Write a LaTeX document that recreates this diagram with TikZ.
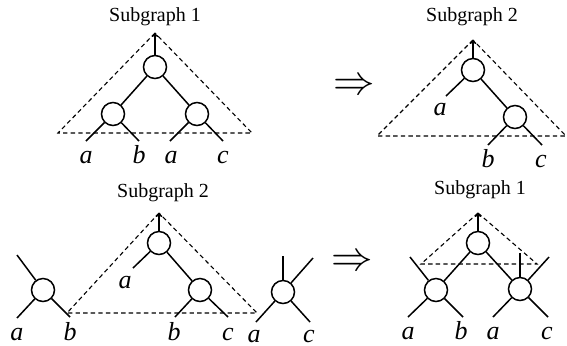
\documentclass[tikz,border=0pt]{standalone}
\usepackage{fontspec}
\setmainfont{Liberation Serif}
\usetikzlibrary{arrows.meta}

\begin{document}
\begin{tikzpicture}[x=0.5pt,y=-0.5pt,
  vert/.style={circle,draw,line width=0.75pt,minimum size=11.5pt,inner sep=0pt},
  edge/.style={line width=0.75pt},
  sub/.style={line width=0.55pt,dash pattern=on 2.2pt off 1.6pt},
  rootarr/.style={line width=0.75pt,-{To[length=2pt,width=3.5pt]}},
  ttl/.style={font=\fontsize{10}{12}\selectfont},
  lab/.style={font=\fontsize{13}{15}\selectfont\itshape,anchor=base,inner sep=0pt},
  impl/.style={font=\fontsize{21}{23}\selectfont}]
  \useasboundingbox (0,0) rectangle (567,345);

  % top left: subgraph 1
  \node[ttl] (t1) at (155,17) {Subgraph 1};
  \coordinate (p1) at (155,33);
  \coordinate (q1l) at (58,133);
  \coordinate (q1r) at (252,133);
  \node[vert] (r1) at (155,67) {};
  \node[vert] (r1l) at (113,114) {};
  \node[vert] (r1r) at (197,114) {};
  \coordinate (l1) at (86,141); \coordinate (l2) at (139,141);
  \coordinate (l3) at (170,141); \coordinate (l4) at (223,141);
  \draw[sub] (p1) -- (q1l) -- (q1r) -- cycle;
  \draw[rootarr] (r1) -- (p1);
  \draw[edge] (r1) -- (r1l); \draw[edge] (r1) -- (r1r);
  \draw[edge] (r1l) -- (l1); \draw[edge] (r1l) -- (l2);
  \draw[edge] (r1r) -- (l3); \draw[edge] (r1r) -- (l4);
  \node[lab] (a1) at (86,163) {a};
  \node[lab] (b1) at (139,163) {b};
  \node[lab] (a2) at (171,163) {a};
  \node[lab] (c1) at (223,163) {c};

  \node[impl] (imp1) at (354,87) {$\Rightarrow$};

  % top right: subgraph 2
  \node[ttl] (t2) at (472,17) {Subgraph 2};
  \coordinate (p2) at (473,40);
  \coordinate (q2l) at (377,136);
  \coordinate (q2r) at (566,136);
  \node[vert] (r2) at (473,70) {};
  \node[vert] (r2r) at (515,117) {};
  \coordinate (m1) at (446,96);
  \coordinate (l5) at (488,145); \coordinate (l6) at (542,145);
  \draw[sub] (p2) -- (q2l) -- (q2r) -- cycle;
  \draw[rootarr] (r2) -- (p2);
  \draw[edge] (r2) -- (m1); \draw[edge] (r2) -- (r2r);
  \draw[edge] (r2r) -- (l5); \draw[edge] (r2r) -- (l6);
  \node[lab] (a3) at (440,115) {a};
  \node[lab] (b2) at (488,167) {b};
  \node[lab] (c2) at (541,167) {c};

  % bottom left: subgraph 2 between two other nodes
  \node[ttl] (t3) at (163,193) {Subgraph 2};
  \coordinate (p3) at (159,213);
  \coordinate (q3l) at (67,313);
  \coordinate (q3r) at (257,313);
  \node[vert] (r3) at (159,243) {};
  \node[vert] (r3r) at (200,290) {};
  \coordinate (m2) at (133,268);
  \coordinate (l7) at (175,317); \coordinate (l8) at (228,317);
  \draw[sub] (p3) -- (q3l) -- (q3r) -- cycle;
  \draw[rootarr] (r3) -- (p3);
  \draw[edge] (r3) -- (m2); \draw[edge] (r3) -- (r3r);
  \draw[edge] (r3r) -- (l7); \draw[edge] (r3r) -- (l8);
  \node[lab] (a4) at (125,288) {a};
  \node[lab] (b3) at (174,340) {b};
  \node[lab] (c3) at (228,340) {c};

  \node[vert] (e1) at (43,290) {};
  \coordinate (n1) at (17,255); \coordinate (n2) at (17,318);
  \coordinate (n3) at (70,317);
  \draw[edge] (e1) -- (n1); \draw[edge] (e1) -- (n2); \draw[edge] (e1) -- (n3);
  \node[lab] (a5) at (17,340) {a};
  \node[lab] (b4) at (70,340) {b};

  \node[vert] (e2) at (283,292) {};
  \coordinate (n4) at (283,256); \coordinate (n5) at (313,258);
  \coordinate (n6) at (256,322); \coordinate (n7) at (310,322);
  \draw[edge] (e2) -- (n4); \draw[edge] (e2) -- (n5);
  \draw[edge] (e2) -- (n6); \draw[edge] (e2) -- (n7);
  \node[lab] (a6) at (254,342) {a};
  \node[lab] (c4) at (309,342) {c};

  \node[impl] (imp2) at (352,263) {$\Rightarrow$};

  % bottom right: subgraph 1 after the swap
  \node[ttl] (t4) at (480,190) {Subgraph 1};
  \coordinate (p4) at (478,213);
  \coordinate (q4l) at (421,264);
  \coordinate (q4r) at (537,264);
  \node[vert] (r4) at (478,243) {};
  \node[vert] (r4l) at (436,290) {};
  \node[vert] (r4r) at (520,289) {};
  \coordinate (s1) at (410,257); \coordinate (s2) at (520,253);
  \coordinate (s3) at (549,257);
  \coordinate (l9) at (408,317); \coordinate (l10) at (463,317);
  \coordinate (l11) at (493,317); \coordinate (l12) at (548,317);
  \draw[sub] (p4) -- (q4l) -- (q4r) -- cycle;
  \draw[rootarr] (r4) -- (p4);
  \draw[edge] (r4) -- (r4l); \draw[edge] (r4) -- (r4r);
  \draw[edge] (r4l) -- (s1); \draw[edge] (r4l) -- (l9); \draw[edge] (r4l) -- (l10);
  \draw[edge] (r4r) -- (s2); \draw[edge] (r4r) -- (s3);
  \draw[edge] (r4r) -- (l11); \draw[edge] (r4r) -- (l12);
  \node[lab] (a7) at (408,339) {a};
  \node[lab] (b5) at (461,339) {b};
  \node[lab] (a8) at (493,339) {a};
  \node[lab] (c5) at (547,339) {c};
\end{tikzpicture}
\end{document}
